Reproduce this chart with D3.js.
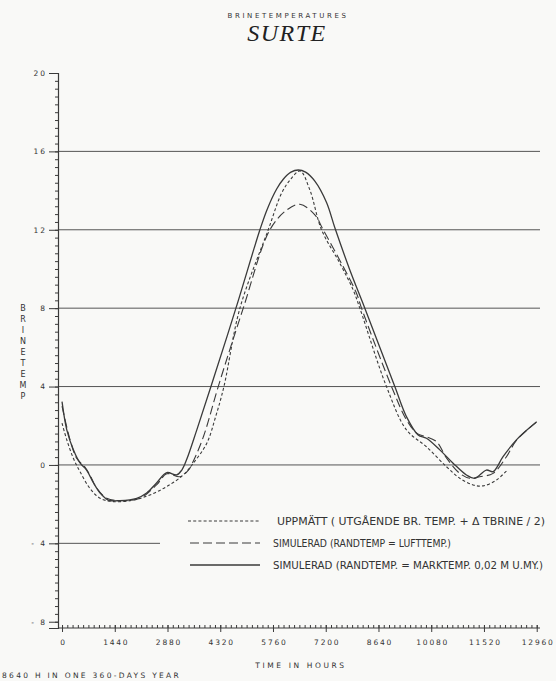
<!DOCTYPE html>
<head>
<meta charset="utf-8">
<script src="https://d3js.org/d3.v7.min.js"></script>
<style>
  body { margin: 0; background: #f9f9f7; }
  svg { display: block; background: #f9f9f7; }
  .lbl { font-family: "DejaVu Sans", sans-serif; fill: #333; }
</style>
</head>
<body>
<div id="chart"></div>
<script>

// chart size
var width = 556,
    height = 681;

// measured (short dashes)
var uppmattHours  = [0, 130, 310, 490, 760, 1040, 1400, 1950, 2400, 2860, 3310, 3584, 3950, 4200, 4420, 4857, 5630, 5994, 6250, 6500, 6767, 7085, 7585, 7949, 8131, 8858, 9404, 9950, 10496, 10859, 11223, 11496, 11860, 12178];
var uppmattValues = [2.13, 1.28, 0.34, -0.34, -1.19, -1.70, -1.87, -1.79, -1.53, -1.10, -0.51, 0.09, 1.10, 2.50, 4.00, 8.00, 12.00, 13.86, 14.60, 15.00, 14.03, 12.00, 10.29, 8.93, 8.00, 4.00, 1.79, 0.93, -0.09, -0.68, -1.02, -1.07, -0.77, -0.22];

// simulated, boundary = air temp (long dashes)
var luftHours  = [0, 220, 400, 630, 760, 950, 1220, 1580, 2130, 2580, 2860, 3220, 3450, 3560, 3860, 4265, 4948, 5675, 6130, 6494, 6903, 7130, 7676, 8040, 8177, 8996, 9405, 9700, 9950, 10224, 10500, 10859, 11132, 11405, 11769, 12134, 12406, 12960];
var luftValues = [3.00, 1.28, 0.34, -0.12, -0.51, -1.19, -1.70, -1.82, -1.70, -1.02, -0.45, -0.60, -0.26, 0.10, 1.44, 4.00, 8.00, 12.00, 13.00, 13.30, 12.76, 12.00, 10.12, 8.76, 8.00, 4.00, 2.30, 1.60, 1.44, 1.19, 0.35, -0.43, -0.68, -0.60, -0.43, 0.42, 1.25, 2.20];

// simulated, boundary = ground temp 0.02 m (solid)
var markHours  = [0, 130, 310, 490, 670, 860, 1040, 1260, 1580, 2040, 2310, 2580, 2860, 3130, 3270, 3400, 3680, 4066, 4748, 5403, 5600, 5860, 6040, 6250, 6450, 6650, 6903, 7222, 7449, 7858, 8267, 9086, 9405, 9722, 9950, 10314, 10677, 11041, 11269, 11587, 11769, 12041, 12406, 12960];
var markValues = [3.23, 1.79, 0.77, 0.10, -0.26, -0.92, -1.43, -1.79, -1.82, -1.70, -1.43, -0.92, -0.39, -0.51, -0.26, 0.26, 1.79, 4.00, 8.00, 12.00, 13.04, 14.08, 14.58, 14.94, 15.05, 14.94, 14.48, 13.39, 12.10, 9.95, 8.00, 4.00, 2.46, 1.53, 1.36, 0.77, 0.09, -0.51, -0.68, -0.26, -0.34, 0.42, 1.28, 2.20];

// axis ticks
var xTicks = [0, 1440, 2880, 4320, 5760, 7200, 8640, 10080, 11520, 12960];
var yTicks = [-8, -4, 0, 4, 8, 12, 16, 20];
var gridValues = [16, 12, 8, 4, 0];

// legend rows
var legendLabels = [
    "UPPMÄTT ( UTGÅENDE  BR.  TEMP.  + Δ TBRINE / 2)",
    "SIMULERAD  (RANDTEMP = LUFTTEMP.)",
    "SIMULERAD  (RANDTEMP. = MARKTEMP.  0,02  M  U.MY.)"
];
var legendDash = ["3,2.2", "9,4", null];

var svg = d3.select("#chart")
    .append("svg")
    .attr("width", width)
    .attr("height", height);

var ink = "#3a3a3a";

// scales (y axis sits a little left of hour 0)
var x = d3.scaleLinear().domain([-110, 13050]).range([58, 540]);
var y = d3.scaleLinear().domain([-8.32, 20]).range([628, 73]);

// horizontal grid lines
svg.append("g").selectAll("line")
    .data(gridValues)
    .enter().append("line")
    .attr("x1", x(-110))
    .attr("x2", x(13050))
    .attr("y1", d => y(d))
    .attr("y2", d => y(d))
    .attr("stroke", "#555")
    .attr("stroke-width", 1);

// the -4 line stops where the legend begins
svg.append("line")
    .attr("x1", x(-110)).attr("x2", 160)
    .attr("y1", y(-4)).attr("y2", y(-4))
    .attr("stroke", "#555").attr("stroke-width", 1);

// y axis: minor ticks every 0.4
var yMinor = d3.range(-8, 20.01, 0.4);
var yAxisMinor = svg.append("g")
    .attr("transform", "translate(" + x(-110) + ",0)")
    .call(d3.axisLeft(y).tickValues(yMinor).tickSize(3).tickFormat(""));
yAxisMinor.select(".domain").remove();
yAxisMinor.selectAll("line").attr("stroke", ink).attr("x2", -3).attr("x1", 1);

var yAxis = svg.append("g")
    .attr("transform", "translate(" + x(-110) + ",0)")
    .call(d3.axisLeft(y).tickValues(yTicks).tickSize(9).tickPadding(2)
        .tickFormat(d => d < 0 ? "- " + Math.abs(d) : d));
yAxis.select(".domain").attr("stroke", ink).attr("stroke-width", 1.2);
yAxis.selectAll("line").attr("stroke", ink);
yAxis.selectAll("text")
    .attr("class", "lbl")
    .style("font-size", "7.5px")
    .style("letter-spacing", "2px")
    .attr("fill", "#333");

// x axis: minor ticks every 144 hours
var xMinor = d3.range(0, 12961, 144);
var xAxisMinor = svg.append("g")
    .attr("transform", "translate(0," + y(-8.32) + ")")
    .call(d3.axisBottom(x).tickValues(xMinor).tickSize(-3).tickFormat(""));
xAxisMinor.select(".domain").remove();
xAxisMinor.selectAll("line").attr("stroke", ink);

var xAxis = svg.append("g")
    .attr("transform", "translate(0," + y(-8.32) + ")")
    .call(d3.axisBottom(x).tickValues(xTicks).tickSize(4).tickPadding(8)
        .tickFormat(d3.format("d")));
xAxis.select(".domain").attr("stroke", ink).attr("stroke-width", 1.2)
    .attr("d", "M" + x(-110) + ",0H" + x(13050));
xAxis.selectAll("line").attr("stroke", ink).attr("y1", -3);
xAxis.selectAll("text")
    .attr("class", "lbl")
    .attr("dx", "1px")
    .style("font-size", "7.5px")
    .style("letter-spacing", "1.8px")
    .attr("fill", "#333");

// curves
var line = d3.line()
    .x(d => x(d[0]))
    .y(d => y(d[1]))
    .curve(d3.curveCatmullRom.alpha(0.5));

var series = [
    { hours: uppmattHours, values: uppmattValues, dash: legendDash[0], w: 1.1 },
    { hours: luftHours, values: luftValues, dash: legendDash[1], w: 1.1 },
    { hours: markHours, values: markValues, dash: legendDash[2], w: 1.3 }
];

svg.append("g").selectAll("path")
    .data(series)
    .enter().append("path")
    .attr("d", s => line(s.hours.map((h, i) => [h, s.values[i]])))
    .attr("fill", "none")
    .attr("stroke", ink)
    .attr("stroke-width", s => s.w)
    .attr("stroke-dasharray", s => s.dash);

// legend
var legendY = [521, 543, 565];
var legend = svg.append("g").selectAll("g")
    .data(legendLabels)
    .enter().append("g")
    .attr("transform", (d, i) => "translate(0," + legendY[i] + ")");

legend.append("line")
    .attr("x1", (d, i) => i == 0 ? 188 : 190)
    .attr("x2", 260)
    .attr("stroke", ink)
    .attr("stroke-width", (d, i) => i == 2 ? 1.3 : 1.1)
    .attr("stroke-dasharray", (d, i) => legendDash[i]);

var legendWidths = [268, 178, 270];
legend.append("text")
    .attr("class", "lbl")
    .attr("x", (d, i) => i == 0 ? 277 : 273)
    .attr("dy", "0.35em")
    .style("font-family", "'DejaVu Sans Condensed', 'DejaVu Sans', sans-serif")
    .style("font-size", "10.5px")
    .attr("textLength", (d, i) => legendWidths[i])
    .attr("lengthAdjust", "spacingAndGlyphs")
    .text(d => d);

// titles
svg.append("text")
    .attr("class", "lbl")
    .attr("x", 288).attr("y", 18)
    .attr("text-anchor", "middle")
    .style("font-size", "7px")
    .style("letter-spacing", "2.6px")
    .text("BRINETEMPERATURES");

svg.append("text")
    .attr("x", 287).attr("y", 41)
    .attr("text-anchor", "middle")
    .style("font-family", "'Liberation Serif', 'DejaVu Serif', serif")
    .style("font-style", "italic")
    .style("font-size", "24px")
    .style("letter-spacing", "1.5px")
    .attr("fill", "#222")
    .text("SURTE");

// vertical y title, one letter per row
svg.append("g").selectAll("text")
    .data("BRINETEMP".split(""))
    .enter().append("text")
    .attr("class", "lbl")
    .attr("x", 23)
    .attr("y", (d, i) => 311 + i * 11)
    .attr("text-anchor", "middle")
    .style("font-size", "8px")
    .text(d => d);

svg.append("text")
    .attr("class", "lbl")
    .attr("x", 301).attr("y", 668)
    .attr("text-anchor", "middle")
    .style("font-size", "7.5px")
    .style("letter-spacing", "2.6px")
    .text("TIME IN HOURS");

svg.append("text")
    .attr("class", "lbl")
    .attr("x", 2).attr("y", 678)
    .style("font-size", "7.5px")
    .style("letter-spacing", "2.3px")
    .text("8640 H IN ONE 360-DAYS YEAR");

</script>
</body>
